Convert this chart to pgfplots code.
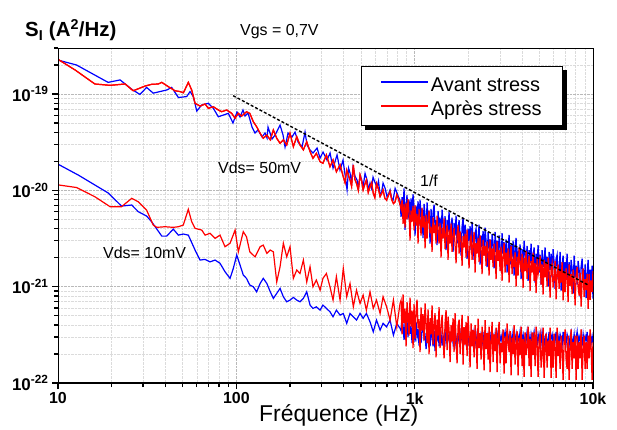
\documentclass[border=0pt]{standalone}
\usepackage{pgfplots}
\pgfplotsset{compat=1.18}
\usepackage{pgfplotstable}
\usepackage{fontspec}
\setmainfont{Liberation Sans}

% Vds = 50 mV, avant stress (low-frequency part)
\pgfplotstableread{
f S
10 2.25e-19
12.7 2.0e-19
19.1 1.32e-19
22.3 1.40e-19
25.9 1.12e-19
28.8 9.9e-20
31.4 1.17e-19
34.2 1.02e-19
37.3 1.06e-19
40.7 1.10e-19
43.4 1.17e-19
47.3 9.2e-20
52.7 9.4e-20
55 1.06e-19
57.4 9.4e-20
60 6.65e-20
64 7.7e-20
69.7 8.0e-20
74.3 7.1e-20
79.3 5.8e-20
84.6 6.05e-20
90.2 6.3e-20
95.8 5.0e-20
100.9 6.5e-20
104.9 5.77e-20
109 6.82e-20
111.9 5.91e-20
116.3 6.35e-20
122.5 4.54e-20
127.3 3.94e-20
132.3 4.23e-20
139.4 3.58e-20
144.9 3.94e-20
148.7 3.49e-20
150.6 4.54e-20
158.6 3.41e-20
164.9 3.75e-20
175.9 4.76e-20
182.8 3.75e-20
187.6 2.82e-20
195 3.94e-20
205.3 3.58e-20
213.4 4.03e-20
221.9 3.17e-20
233.6 2.82e-20
242.8 4.03e-20
249.2 2.95e-20
259 2.62e-20
269.3 2.44e-20
283.6 2.75e-20
294.8 2.16e-20
306.4 2.50e-20
322.6 2.06e-20
335.4 2.44e-20
348.6 1.70e-20
367.1 2.33e-20
381.6 1.62e-20
396.7 2.06e-20
407 1.45e-20
417.7 1.01e-20
426 1.7e-20
434.2 1.51e-20
443 1.2e-20
451.4 1.75e-20
463 1.4e-20
475.3 1.28e-20
484 1.05e-20
494.1 1.44e-20
504 1.3e-20
513.6 1.08e-20
527 1.5e-20
540.8 1.28e-20
551 1.0e-20
562.2 1.19e-20
573 1.05e-20
584.4 1.37e-20
600 1.2e-20
615.3 1.08e-20
627 1.25e-20
639.7 8.94e-21
652 9.5e-21
665 1.19e-20
683 1.05e-20
700.2 8.52e-21
714 9.2e-21
728 1.01e-20
742 8.3e-21
756.8 7.93e-21
777 1.05e-20
796.8 9.38e-21
812 8.5e-21
828 7.9e-21
}\bluefiftylow

% Vds = 50 mV, apres stress (low-frequency part)
\pgfplotstableread{
f S
10 2.29e-19
12.5 1.77e-19
16.1 1.27e-19
19.6 1.23e-19
23.8 1.27e-19
26.4 1.08e-19
30.8 1.21e-19
33.5 1.26e-19
36.5 1.27e-19
38.2 1.32e-19
41.6 1.19e-19
45.3 1.08e-19
48.3 1.06e-19
50.5 1.03e-19
53.8 1.32e-19
56.2 1.10e-19
58.7 8.0e-20
62.6 7.5e-20
66.8 7.87e-20
69.7 7.1e-20
74.3 7.38e-20
79.3 6.82e-20
82.8 6.55e-20
88.3 6.82e-20
94.2 6.3e-20
98.4 5.6e-20
102.6 6.3e-20
107.2 5.9e-20
114 6.55e-20
119 6.3e-20
124.5 5.16e-20
130 4.57e-20
136 3.91e-20
141.6 3.47e-20
148.3 3.75e-20
155 3.34e-20
161.3 4.23e-20
168.5 3.47e-20
175.9 3.08e-20
183.5 3.34e-20
191.7 2.96e-20
200 3.91e-20
208.8 2.84e-20
218.2 3.6e-20
227.5 2.96e-20
237.6 2.63e-20
248.2 3.2e-20
259 2.52e-20
269 2.15e-20
281 2.42e-20
295 1.98e-20
306 1.91e-20
320 2.33e-20
335 1.76e-20
348.6 2.07e-20
364 1.56e-20
381.6 1.84e-20
398 1.38e-20
407 1.2e-20
416 1.63e-20
425 1.45e-20
434 1.28e-20
443 1.1e-20
453 1.84e-20
462 1.3e-20
472 1.18e-20
483 1.0e-20
494 1.44e-20
504 1.25e-20
514 1.01e-20
525 1.15e-20
536 1.28e-20
549 9.5e-21
562 1.09e-20
574 1.2e-20
586 9.3e-21
598 8.4e-21
611 1.18e-20
625 1.05e-20
640 8.6e-21
652 9.2e-21
665 1.01e-20
680 8.3e-21
696 7.9e-21
712 8.8e-21
728 9.7e-21
744 8.0e-21
760 7.3e-21
777 7.6e-21
794 9.0e-21
811 8.2e-21
828 7.1e-21
}\redfiftylow

% Vds = 10 mV, avant stress (low-frequency part)
\pgfplotstableread{
f S
10 1.87e-20
13.0 1.44e-20
19.1 9.4e-21
22.7 6.87e-21
25.9 7.04e-21
28.2 6.0e-21
31.4 5.41e-21
33.5 4.72e-21
38.2 3.35e-21
40.7 3.35e-21
44.3 3.96e-21
47.3 3.43e-21
50.4 3.52e-21
53.8 3.43e-21
58.7 2.4e-21
62.6 1.89e-21
66.8 1.92e-21
71.2 1.81e-21
76.0 1.89e-21
81.0 1.75e-21
86.4 1.43e-21
92.2 1.22e-21
96.2 1.55e-21
100.5 2.13e-21
104.9 1.68e-21
109.4 1.32e-21
114 1.22e-21
119 1.04e-21
124.5 9.98e-22
130 8.85e-22
136 1.08e-21
141.6 1.22e-21
148.3 1.08e-21
155 8.85e-22
161.3 7.56e-22
168.5 8.52e-22
175.9 9.6e-22
183.5 7.86e-22
191.7 6.97e-22
200 7.26e-22
208.8 7.74e-22
218.2 7.26e-22
227.5 6.97e-22
237.6 7.56e-22
248.2 8.85e-22
259 6.44e-22
269 5.95e-22
281 6.18e-22
295 5.71e-22
306 6.44e-22
320 5.95e-22
335 5.49e-22
348.6 4.87e-22
364 5.71e-22
381.6 5.07e-22
398 5.28e-22
416 4.16e-22
434 5.28e-22
453 4.87e-22
472 4.5e-22
494 5.28e-22
514 4.69e-22
536 5.28e-22
562 4.32e-22
586 3.4e-22
611 4.5e-22
640 3.54e-22
665 4.16e-22
696 3.83e-22
728 4.5e-22
760 3.14e-22
794 4.16e-22
828 3.7e-22
}\bluetenlow

% Vds = 10 mV, apres stress (low-frequency part)
\pgfplotstableread{
f S
10 1.14e-20
12.7 1.07e-20
16.1 8.58e-21
19.6 6.76e-21
22.7 6.76e-21
25.9 8.26e-21
28.2 7.61e-21
31.4 6.24e-21
34.2 4.36e-21
35.8 4.13e-21
39.8 4.19e-21
44.3 4.13e-21
47.3 4.19e-21
50.4 4.36e-21
53.8 6.35e-21
56.2 4.72e-21
58.7 4.03e-21
64 3.87e-21
66.8 3.43e-21
71.2 3.58e-21
76 3.17e-21
81 3.43e-21
86.4 2.6e-21
92.2 2.82e-21
98.4 3.87e-21
102.6 2.3e-21
109.4 3.72e-21
114 3.3e-21
119 2.3e-21
127.3 2.04e-21
136 2.6e-21
141.6 2.7e-21
148.3 2.22e-21
155 2.4e-21
161.3 2.3e-21
168.5 1.12e-21
175.9 1.61e-21
183.5 2.82e-21
191.7 2.04e-21
200 2.6e-21
208.8 1.22e-21
218.2 1.49e-21
227.5 1.37e-21
237.6 1.89e-21
248.2 1.12e-21
259 1.61e-21
269 9.98e-22
281 1.17e-21
295 9.2e-22
306 1.22e-21
320 1.37e-21
335 9.98e-22
348.6 7.26e-22
364 1.27e-21
381.6 7.26e-22
398 1.55e-21
416 7.86e-22
434 1.08e-21
453 6.18e-22
472 9.2e-22
494 6.7e-22
514 8.18e-22
536 5.71e-22
562 8.85e-22
586 5.95e-22
611 7.26e-22
640 5.28e-22
665 7.86e-22
696 6.18e-22
728 4.5e-22
760 7.26e-22
794 3.83e-22
828 6.7e-22
}\redtenlow

% High-frequency part of the four spectra
\pgfplotstableread{
f b50 r50 b10 r10
828 7.9e-21 7.1e-21 3.7e-22 6.7e-22
839 5.3e-21 6.4e-21 3.5e-22 7.2e-22
850 8.5e-21 8.0e-21 4.95e-22 3.2e-22
861 6.5e-21 4.5e-21 3.9e-22 8.3e-22
872 1.05e-20 7.2e-21 2.8e-22 4.2e-22
883 3.9e-21 4.1e-21 4.05e-22 5.9e-22
895 7.1e-21 7.4e-21 3.4e-22 2.4e-22
906 8.9e-21 5.0e-21 4.4e-22 6.9e-22
918 5.0e-21 8.1e-21 3.0e-22 5.0e-22
930 8.0e-21 5.9e-21 4.75e-22 3.1e-22
942 4.6e-21 3.0e-21 3.25e-22 7.7e-22
954 8.25e-21 6.2e-21 3.9e-22 3.85e-22
967 5.6e-21 4.7e-21 2.6e-22 5.65e-22
979 9.1e-21 6.9e-21 4.2e-22 2.3e-22
992 6.6e-21 3.85e-21 3.6e-22 6.6e-22
1005 3.4e-21 7.0e-21 2.7e-22 2.85e-22
1018 6.9e-21 4.3e-21 4.3e-22 5.45e-22
1031 5.2e-21 5.7e-21 3.05e-22 7.35e-22
1045 7.7e-21 2.8e-21 3.65e-22 3.7e-22
1058 4.3e-21 6.4e-21 2.45e-22 4.6e-22
1072 8.0e-21 4.8e-21 3.8e-22 2.1e-22
1086 4.9e-21 3.4e-21 2.6e-22 6.1e-22
1100 6.5e-21 6.6e-21 3.5e-22 3.5e-22
1114 3.2e-21 4.1e-21 4.1e-22 5.2e-22
1129 7.25e-21 5.4e-21 2.9e-22 2.75e-22
1144 5.45e-21 2.5e-21 3.1e-22 6.7e-22
1159 3.8e-21 5.6e-21 2.25e-22 4.2e-22
1174 7.5e-21 3.15e-21 3.6e-22 2.6e-22
1189 4.6e-21 5.0e-21 2.8e-22 5.8e-22
1204 6.1e-21 6.2e-21 3.35e-22 2.0e-22
1220 2.8e-21 3.6e-21 2.4e-22 4.7e-22
1236 6.4e-21 4.2e-21 3.8e-22 3.2e-22
1252 3.6e-21 2.3e-21 3.0e-22 6.4e-22
1268 5.8e-21 5.25e-21 2.4e-22 2.5e-22
1285 7.1e-21 3.6e-21 3.5e-22 4.0e-22
1301 4.2e-21 4.4e-21 2.15e-22 5.3e-22
1318 4.9e-21 2.8e-21 3.25e-22 1.85e-22
1335 2.7e-21 5.45e-21 2.7e-22 4.55e-22
1353 6.1e-21 3.95e-21 3.8e-22 3.1e-22
1370 4.2e-21 2.8e-21 2.4e-22 6.15e-22
1388 5.2e-21 4.6e-21 2.9e-22 2.3e-22
1406 3.2e-21 2.0e-21 3.2e-22 3.7e-22
1425 6.3e-21 4.1e-21 2.45e-22 5.1e-22
1443 4.6e-21 3.15e-21 3.05e-22 2.95e-22
1462 3.2e-21 5.1e-21 2.75e-22 1.8e-22
1481 5.4e-21 2.45e-21 3.4e-22 4.2e-22
1500 2.4e-21 3.5e-21 2.6e-22 5.7e-22
1520 4.9e-21 4.4e-21 2.9e-22 2.2e-22
1539 3.7e-21 1.9e-21 3.2e-22 4.9e-22
1559 6.0e-21 3.9e-21 2.75e-22 3.55e-22
1580 2.9e-21 2.8e-21 2.45e-22 1.65e-22
1600 4.15e-21 4.55e-21 3.05e-22 4.0e-22
1621 5.2e-21 2.3e-21 3.4e-22 2.7e-22
1642 2.3e-21 3.3e-21 2.6e-22 4.7e-22
1663 4.6e-21 4.1e-21 3.2e-22 2.1e-22
1685 3.4e-21 2.7e-21 2.9e-22 5.3e-22
1707 5.45e-21 1.75e-21 2.45e-22 2.65e-22
1729 2.8e-21 3.5e-21 3.05e-22 1.6e-22
1752 3.95e-21 4.35e-21 2.75e-22 3.9e-22
1775 4.9e-21 2.2e-21 3.2e-22 4.55e-22
1798 3.2e-21 3.75e-21 2.6e-22 2.0e-22
1821 2.1e-21 3.0e-21 3.4e-22 3.2e-22
1845 4.2e-21 1.65e-21 2.75e-22 5.1e-22
1869 5.2e-21 3.35e-21 2.45e-22 1.55e-22
1893 2.6e-21 2.55e-21 3.05e-22 3.8e-22
1918 4.4e-21 3.55e-21 3.2e-22 2.5e-22
1942 3.55e-21 2.0e-21 2.6e-22 4.3e-22
1968 1.95e-21 3.9e-21 2.9e-22 1.9e-22
1993 4.0e-21 2.4e-21 3.4e-22 4.95e-22
2019 3.0e-21 1.55e-21 2.45e-22 3.1e-22
2045 4.25e-21 3.0e-21 3.05e-22 1.45e-22
2072 2.4e-21 3.4e-21 2.75e-22 4.15e-22
2099 4.7e-21 1.9e-21 3.2e-22 2.4e-22
2126 2.9e-21 2.7e-21 2.6e-22 3.55e-22
2154 1.9e-21 3.7e-21 3.4e-22 1.85e-22
2182 3.6e-21 1.4e-21 2.9e-22 4.0e-22
2210 4.0e-21 2.85e-21 2.45e-22 2.9e-22
2239 2.25e-21 2.2e-21 3.2e-22 1.4e-22
2268 3.2e-21 3.2e-21 2.75e-22 4.65e-22
2297 4.4e-21 1.8e-21 3.05e-22 2.3e-22
2327 1.7e-21 3.4e-21 2.6e-22 3.3e-22
2357 3.4e-21 2.45e-21 3.2e-22 1.75e-22
2388 2.6e-21 1.35e-21 2.9e-22 3.85e-22
2419 3.8e-21 3.05e-21 2.45e-22 2.8e-22
2451 2.1e-21 2.1e-21 3.4e-22 1.35e-22
2483 4.1e-21 2.65e-21 2.75e-22 4.5e-22
2515 2.95e-21 1.65e-21 3.05e-22 2.25e-22
2548 1.6e-21 2.95e-21 2.6e-22 3.3e-22
2581 3.7e-21 2.35e-21 3.2e-22 1.75e-22
2614 2.5e-21 1.3e-21 2.9e-22 3.85e-22
2648 3.1e-21 3.1e-21 2.45e-22 1.3e-22
2683 1.95e-21 1.9e-21 3.4e-22 2.7e-22
2718 3.5e-21 2.5e-21 2.75e-22 4.3e-22
2753 2.8e-21 1.6e-21 3.05e-22 1.65e-22
2789 1.55e-21 2.8e-21 2.6e-22 3.2e-22
2825 3.7e-21 2.15e-21 3.2e-22 2.15e-22
2862 2.3e-21 1.2e-21 2.45e-22 3.75e-22
2899 3.0e-21 2.95e-21 2.9e-22 1.3e-22
2937 1.9e-21 1.85e-21 3.4e-22 3.2e-22
2975 3.4e-21 2.4e-21 2.6e-22 4.3e-22
3013 2.6e-21 1.45e-21 3.05e-22 1.6e-22
3052 1.45e-21 2.6e-21 2.75e-22 2.6e-22
3092 3.6e-21 1.15e-21 3.2e-22 2.1e-22
3132 2.2e-21 2.07e-21 2.45e-22 3.6e-22
3173 2.9e-21 2.85e-21 3.05e-22 1.25e-22
3214 1.75e-21 1.4e-21 3.4e-22 3.05e-22
3256 3.1e-21 2.25e-21 2.6e-22 1.6e-22
3298 1.4e-21 1.7e-21 2.9e-22 4.15e-22
3341 2.5e-21 2.5e-21 2.75e-22 2.6e-22
3385 3.45e-21 1.1e-21 3.2e-22 2.1e-22
3429 1.7e-21 2.15e-21 2.45e-22 3.45e-22
3473 2.7e-21 2.65e-21 3.05e-22 1.2e-22
3518 2.05e-21 1.35e-21 2.6e-22 2.95e-22
3564 3.0e-21 1.91e-21 3.4e-22 2.0e-22
3610 1.3e-21 1.6e-21 2.9e-22 4.0e-22
3657 2.6e-21 2.3e-21 2.75e-22 1.55e-22
3705 3.2e-21 1.0e-21 3.2e-22 2.5e-22
3753 1.6e-21 2.05e-21 2.45e-22 3.45e-22
3802 2.3e-21 1.3e-21 3.05e-22 1.2e-22
3851 1.95e-21 2.55e-21 2.75e-22 2.95e-22
3901 2.75e-21 1.77e-21 3.4e-22 1.95e-22
3952 1.2e-21 1.5e-21 2.6e-22 3.85e-22
4003 2.45e-21 2.2e-21 2.9e-22 1.5e-22
4055 1.55e-21 0.97e-21 3.2e-22 2.85e-22
4108 3.0e-21 2.0e-21 2.45e-22 1.16e-22
4162 2.12e-21 1.45e-21 3.05e-22 3.35e-22
4216 1.8e-21 2.35e-21 2.75e-22 1.95e-22
4271 2.65e-21 1.2e-21 3.4e-22 2.42e-22
4326 1.15e-21 1.7e-21 2.6e-22 3.85e-22
4382 2.4e-21 2.1e-21 3.05e-22 1.5e-22
4439 1.75e-21 0.9e-21 2.45e-22 2.85e-22
4497 2.8e-21 1.85e-21 3.2e-22 1.16e-22
4555 1.45e-21 1.4e-21 2.75e-22 3.35e-22
4614 2.05e-21 2.25e-21 2.9e-22 1.95e-22
4675 2.55e-21 1.15e-21 3.4e-22 3.35e-22
4735 1.1e-21 1.75e-21 2.6e-22 1.5e-22
4797 2.2e-21 0.86e-21 3.05e-22 3.85e-22
4859 1.7e-21 1.95e-21 2.45e-22 2.42e-22
4922 2.7e-21 1.35e-21 3.2e-22 1.16e-22
4986 1.4e-21 1.57e-21 2.75e-22 2.85e-22
5051 2.15e-21 2.1e-21 3.2e-22 3.25e-22
5117 1.05e-21 1.05e-21 2.6e-22 1.45e-22
5183 2.4e-21 1.7e-21 3.4e-22 1.9e-22
5251 1.6e-21 0.83e-21 2.9e-22 3.75e-22
5319 1.9e-21 1.9e-21 2.45e-22 1.13e-22
5388 2.55e-21 1.25e-21 3.05e-22 2.35e-22
5458 1.3e-21 1.8e-21 3.2e-22 3.25e-22
5529 2.05e-21 1.0e-21 2.6e-22 1.45e-22
5601 1.0e-21 2.0e-21 2.75e-22 2.75e-22
5674 2.3e-21 1.45e-21 3.4e-22 1.9e-22
5748 1.5e-21 0.77e-21 2.45e-22 3.75e-22
5822 2.2e-21 1.55e-21 2.9e-22 1.13e-22
5898 1.25e-21 1.75e-21 3.2e-22 2.75e-22
5975 2.45e-21 0.98e-21 2.6e-22 1.45e-22
6052 1.78e-21 1.2e-21 3.05e-22 3.25e-22
6131 0.95e-21 1.85e-21 2.75e-22 2.35e-22
6211 1.95e-21 0.74e-21 3.4e-22 1.13e-22
6292 2.15e-21 1.35e-21 2.45e-22 3.75e-22
6373 1.2e-21 1.7e-21 3.05e-22 1.9e-22
6456 1.45e-21 0.95e-21 2.6e-22 2.75e-22
6540 2.3e-21 1.45e-21 3.2e-22 1.4e-22
6625 0.91e-21 1.1e-21 2.9e-22 3.1e-22
6711 1.66e-21 1.8e-21 2.45e-22 2.25e-22
6799 2.1e-21 0.72e-21 3.4e-22 1.08e-22
6887 1.15e-21 1.45e-21 2.75e-22 2.65e-22
6977 1.8e-21 0.88e-21 3.05e-22 3.6e-22
7067 1.35e-21 1.55e-21 2.6e-22 1.8e-22
7159 2.2e-21 1.25e-21 3.2e-22 1.4e-22
7252 0.88e-21 0.69e-21 2.9e-22 3.1e-22
7347 1.8e-21 1.7e-21 2.45e-22 1.08e-22
7442 1.08e-21 1.02e-21 3.05e-22 2.25e-22
7539 1.9e-21 1.35e-21 3.4e-22 3.6e-22
7637 1.54e-21 0.84e-21 2.75e-22 1.4e-22
7737 0.85e-21 1.5e-21 2.6e-22 2.65e-22
7837 2.1e-21 1.2e-21 3.2e-22 1.8e-22
7939 1.25e-21 0.64e-21 2.45e-22 3.1e-22
8042 1.65e-21 1.3e-21 2.9e-22 1.08e-22
8147 1.05e-21 1.6e-21 3.4e-22 3.1e-22
8252 1.85e-21 0.99e-21 2.6e-22 1.4e-22
8360 1.49e-21 0.81e-21 3.05e-22 2.65e-22
8468 0.79e-21 1.4e-21 2.75e-22 1.8e-22
8578 1.6e-21 0.62e-21 3.2e-22 3.6e-22
8690 1.95e-21 1.12e-21 2.45e-22 1.08e-22
8803 1.2e-21 1.55e-21 3.2e-22 2.25e-22
8918 1.0e-21 0.78e-21 2.6e-22 3.1e-22
9034 1.7e-21 1.2e-21 3.05e-22 1.4e-22
9151 0.76e-21 0.92e-21 2.75e-22 2.65e-22
9270 1.38e-21 1.35e-21 3.4e-22 1.4e-22
9391 1.9e-21 0.59e-21 2.45e-22 3.1e-22
9513 0.97e-21 1.35e-21 2.9e-22 1.8e-22
9637 1.5e-21 0.73e-21 3.2e-22 3.6e-22
9762 1.15e-21 1.16e-21 2.6e-22 2.25e-22
9889 1.65e-21 0.88e-21 3.05e-22 1.08e-22
10000 0.75e-21 1.45e-21 2.6e-22 2.65e-22
}\highpart

\begin{document}
\begin{tikzpicture}
\useasboundingbox (-58bp,-47bp) rectangle (559bp,383bp);
\begin{axis}[
  at={(0,0)}, anchor=south west,
  scale only axis, width=535bp, height=335bp,
  xmode=log, ymode=log,
  xmin=10, xmax=10000, ymin=1e-22, ymax=3e-19,
  axis line style={line width=0.9bp},
  tick pos=left, tick align=outside,
  major tick length=6bp, minor tick length=4bp,
  every tick/.style={black, line width=1.2bp},
  xtick={10,100,1000,10000}, xticklabels={10,100,1k,10k},
  minor xtick={20,30,40,50,60,70,80,90,200,300,400,500,600,700,800,900,2000,3000,4000,5000,6000,7000,8000,9000},
  ytick={1e-22,1e-21,1e-20,1e-19},
  yticklabels={10\textsuperscript{-22},10\textsuperscript{-21},10\textsuperscript{-20},10\textsuperscript{-19}},
  minor ytick={2e-22,3e-22,4e-22,5e-22,6e-22,7e-22,8e-22,9e-22,2e-21,3e-21,4e-21,5e-21,6e-21,7e-21,8e-21,9e-21,2e-20,3e-20,4e-20,5e-20,6e-20,7e-20,8e-20,9e-20,2e-19,3e-19},
  grid=both,
  major grid style={gray!55, densely dotted, line width=0.6bp},
  minor grid style={gray!28, densely dotted, line width=0.5bp},
  xticklabel style={font=\bfseries\fontsize{16}{16}\selectfont},
  yticklabel style={font=\bfseries\fontsize{17}{17}\selectfont},
  legend style={name=leg, at={(0.944,0.946)}, anchor=north east, draw=black, line width=0.8bp,
    fill=white, font=\fontsize{20}{24}\selectfont, inner xsep=19bp, inner ysep=5.5bp,
    row sep=0bp, nodes={inner sep=2bp, text height=17bp, text depth=3bp}},
  legend cell align=left,
  legend image code/.code={\draw[#1, line width=1.3bp] (0bp,2bp) -- (47bp,2bp);},
]
\addplot[blue, line width=1.2bp] table[x=f, y=S] {\bluefiftylow};
\addlegendentry{Avant stress}
\addplot[red, line width=1.2bp] table[x=f, y=S] {\redfiftylow};
\addlegendentry{Après stress}
\addplot[blue, line width=1.25bp, forget plot] table[x=f, y=b50] {\highpart};
\addplot[blue, line width=1.2bp, forget plot] table[x=f, y=S] {\bluetenlow};
\addplot[blue, line width=1.25bp, forget plot] table[x=f, y=b10] {\highpart};
\addplot[red, line width=1.2bp, forget plot] table[x=f, y=S] {\redfiftylow};
\addplot[red, line width=1.25bp, forget plot] table[x=f, y=r50] {\highpart};
\addplot[red, line width=1.2bp, forget plot] table[x=f, y=S] {\redtenlow};
\addplot[red, line width=1.3bp, forget plot] table[x=f, y=r10] {\highpart};
\addplot[black, densely dashed, line width=1.4bp, forget plot] coordinates {(96,9.6e-20) (9400,1.04e-21)};
\draw[line width=2bp] (rel axis cs:0,1) -- (rel axis cs:0,0) -- (rel axis cs:1,0);
\end{axis}
\fill[black] ([xshift=4bp]leg.south west) rectangle ([xshift=4bp, yshift=-4bp]leg.south east);
\fill[black] (leg.south east) rectangle ([xshift=4bp, yshift=-4bp]leg.north east);
\node[anchor=base west, font=\bfseries\fontsize{20.5}{20.5}\selectfont, inner sep=0pt] at (-33bp,346bp) {S\textsubscript{I} (A\textsuperscript{2}/Hz)};
\node[anchor=base west, font=\fontsize{16}{16}\selectfont, inner sep=0pt] at (182bp,347bp) {Vgs = 0,7V};
\node[anchor=base west, font=\fontsize{16}{16}\selectfont, inner sep=0pt] at (160bp,209bp) {Vds= 50mV};
\node[anchor=base west, font=\fontsize{16}{16}\selectfont, inner sep=0pt] at (362bp,196bp) {1/f};
\node[anchor=base west, font=\fontsize{16}{16}\selectfont, inner sep=0pt] at (45bp,124bp) {Vds= 10mV};
\node[anchor=base west, font=\fontsize{23}{23}\selectfont, inner sep=0pt] at (201bp,-38bp) {Fréquence (Hz)};
\end{tikzpicture}
\end{document}
